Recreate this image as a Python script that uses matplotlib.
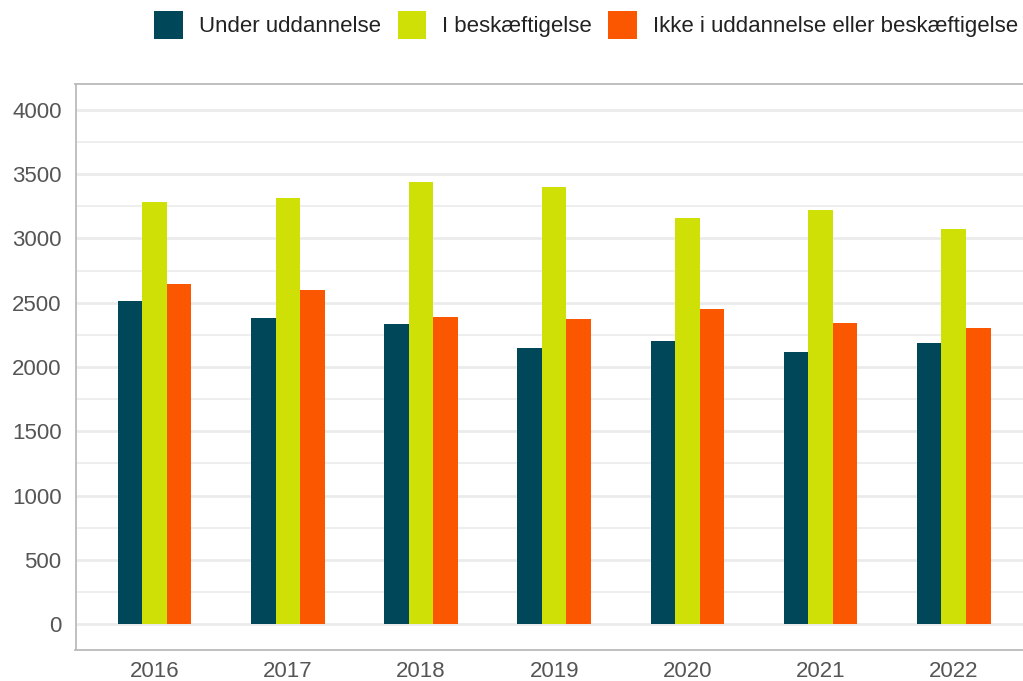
import matplotlib
matplotlib.use("Agg")
import matplotlib.pyplot as plt
import numpy as np
from matplotlib.patches import Patch

years = ["2016", "2017", "2018", "2019", "2020", "2021", "2022"]
under_uddannelse = [2515, 2383, 2337, 2151, 2205, 2120, 2190]
i_beskaeftigelse = [3282, 3313, 3437, 3398, 3158, 3220, 3072]
ikke_i = [2647, 2600, 2391, 2375, 2452, 2345, 2306]
series_names = ["Under uddannelse", "I beskæftigelse", "Ikke i uddannelse eller beskæftigelse"]
colors = ["#004759", "#cfe007", "#fa5700"]

plt.rcParams['font.family'] = ['Liberation Sans', 'DejaVu Sans']

W, H = 1023, 681
fig = plt.figure(figsize=(W / 100, H / 100), dpi=100)
ax = fig.add_axes([75.5 / W, 1 - 650 / H, (1023 - 75.5) / W, (650 - 84) / H])

x = np.arange(len(years))
bw = 0.184
for i, (vals, c) in enumerate(zip([under_uddannelse, i_beskaeftigelse, ikke_i], colors)):
    ax.bar(x + (i - 1) * bw, vals, width=bw, color=c, zorder=3, linewidth=0)

ax.set_xlim(-0.594, 6.52)
ax.set_ylim(-200, 4200)
ax.set_yticks(np.arange(0, 4001, 500))
ax.set_yticks(np.arange(250, 4000, 500), minor=True)
ax.grid(axis='y', which='major', color='#ebebeb', linewidth=2.0, zorder=0)
ax.grid(axis='y', which='minor', color='#ebebeb', linewidth=1.2, zorder=0)
ax.set_xticks(x)
ax.set_xticklabels(years)
ax.tick_params(axis='both', which='both', length=0, labelsize=16, labelcolor='#555555')
ax.tick_params(axis='y', pad=10)
ax.tick_params(axis='x', pad=8)

for s in ['left', 'top', 'bottom']:
    ax.spines[s].set_color('#bbbbbb')
    ax.spines[s].set_linewidth(1.3)
ax.spines['right'].set_visible(False)

handles = [Patch(facecolor=c, edgecolor='none') for c in colors]
fig.legend(handles, series_names, loc='upper right', bbox_to_anchor=(1018 / W, 1 - 11 / H),
           ncol=3, frameon=False, fontsize=16, handlelength=1.3, handleheight=1.55,
           handletextpad=0.7, columnspacing=0.75, borderpad=0, borderaxespad=0,
           labelcolor='#222222')

fig.savefig("out.png", dpi=100)
